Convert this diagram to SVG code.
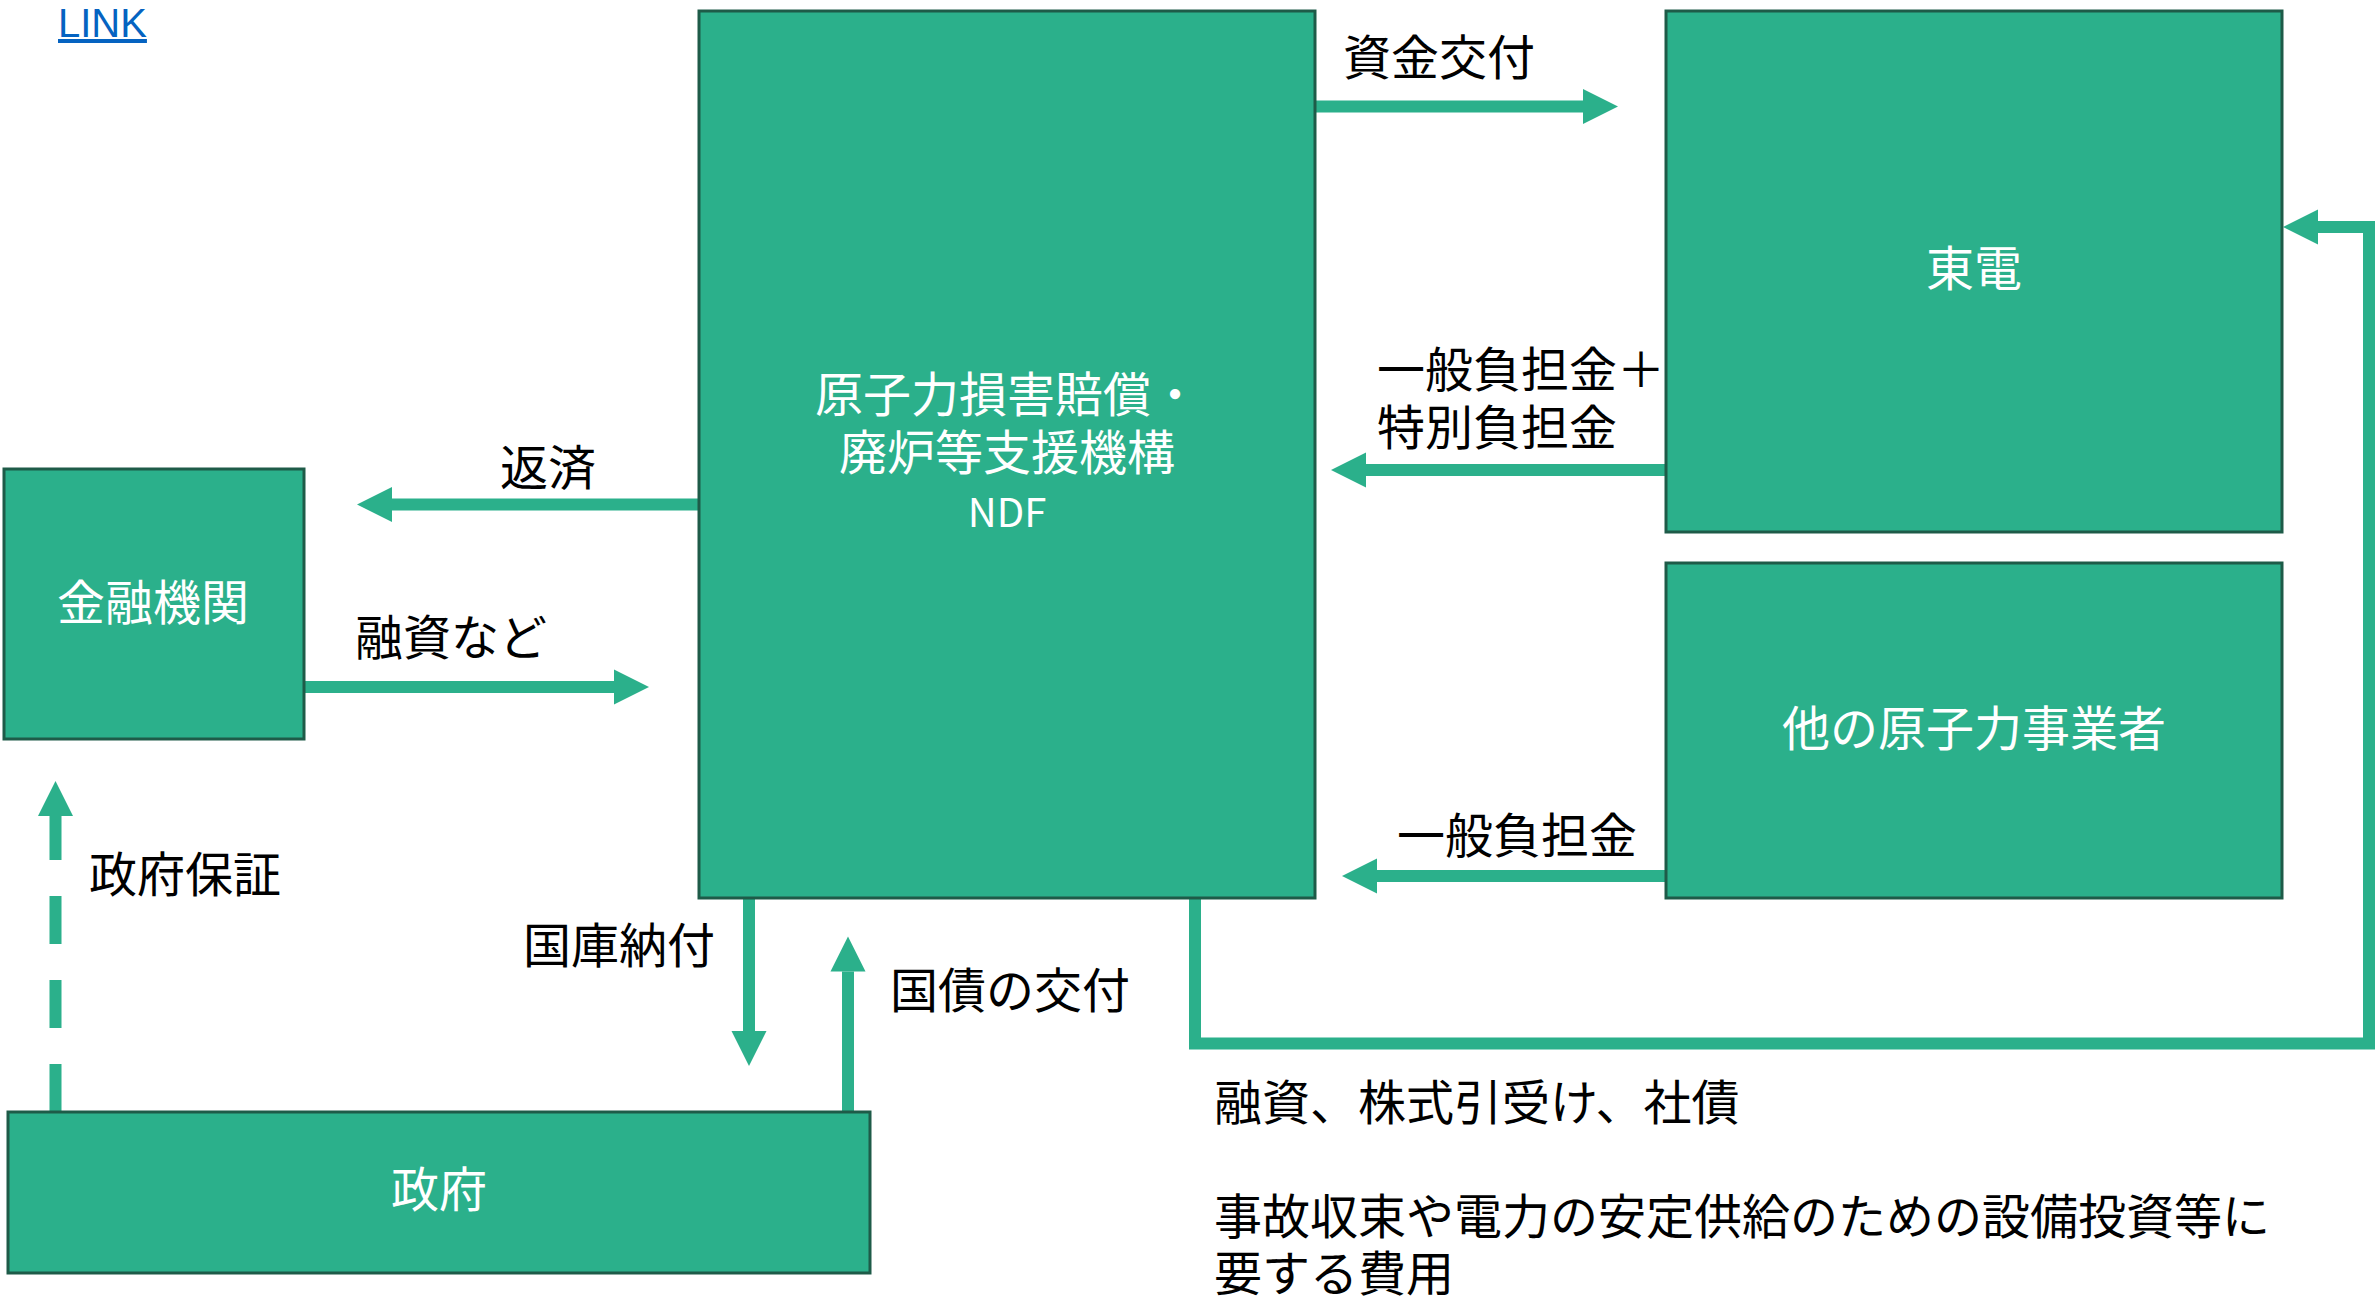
<svg xmlns="http://www.w3.org/2000/svg" width="2377" height="1297" viewBox="0 0 2377 1297">
<style>
.box{fill:#2bb08b;stroke:#1e5b48;stroke-width:3}
.lbl{font-family:"Noto Sans CJK JP","Noto Sans",sans-serif;font-size:48px;fill:#000}
.wl{font-family:"Noto Sans CJK JP","Noto Sans",sans-serif;font-size:48px;fill:#fff;text-anchor:middle}
.con{fill:none;stroke:#2bb08b;stroke-width:12;stroke-linejoin:miter}
.link{font-family:"Liberation Sans","Noto Sans",sans-serif;font-size:40px;fill:#0563c1;text-decoration:underline}
</style>
<defs>
<marker id="ah" markerUnits="userSpaceOnUse" markerWidth="36" markerHeight="36" refX="0" refY="17.5" orient="auto" overflow="visible">
<path d="M0,0 L35,17.5 L0,35 Z" fill="#2bb08b"/>
</marker>
</defs>
<rect width="2377" height="1297" fill="#fff"/>
<text class="link" x="58" y="37">LINK</text>

<g id="connectors">
<line class="con" x1="1315" y1="106.5" x2="1583" y2="106.5" marker-end="url(#ah)"/>
<line class="con" x1="1666" y1="470" x2="1366" y2="470" marker-end="url(#ah)"/>
<line class="con" x1="1666" y1="876" x2="1377" y2="876" marker-end="url(#ah)"/>
<line class="con" x1="699" y1="504.5" x2="392" y2="504.5" marker-end="url(#ah)"/>
<line class="con" x1="304" y1="687" x2="614" y2="687" marker-end="url(#ah)"/>
<line class="con" x1="55.5" y1="1112" x2="55.5" y2="816" stroke-dasharray="48 36" marker-end="url(#ah)"/>
<line class="con" x1="749" y1="898" x2="749" y2="1031" marker-end="url(#ah)"/>
<line class="con" x1="848" y1="1112" x2="848" y2="971.5" marker-end="url(#ah)"/>
<polyline class="con" points="1195,898 1195,1043.5 2369,1043.5 2369,227 2318,227" marker-end="url(#ah)"/>
</g>

<g id="node-ndf">
<rect class="box" x="699" y="11" width="616" height="887"/>
<text class="wl" x="1007" y="412">原子力損害賠償・</text>
<text class="wl" x="1007" y="470">廃炉等支援機構</text>
<text class="wl" x="1007" y="527" style="font-size:40px">NDF</text>
</g>
<g id="node-toden">
<rect class="box" x="1666" y="11" width="616" height="521"/>
<text class="wl" x="1974" y="286">東電</text>
</g>
<g id="node-other">
<rect class="box" x="1666" y="563" width="616" height="335"/>
<text class="wl" x="1974" y="746">他の原子力事業者</text>
</g>
<g id="node-bank">
<rect class="box" x="4" y="469" width="300" height="270"/>
<text class="wl" x="153" y="620">金融機関</text>
</g>
<g id="node-gov">
<rect class="box" x="8" y="1112" width="862" height="161"/>
<text class="wl" x="439" y="1207">政府</text>
</g>

<g id="labels">
<text class="lbl" x="1343" y="75">資金交付</text>
<text class="lbl" x="1377" y="387">一般負担金＋</text>
<text class="lbl" x="1377" y="445">特別負担金</text>
<text class="lbl" x="1397" y="853">一般負担金</text>
<text class="lbl" x="500" y="485">返済</text>
<text class="lbl" x="355" y="655">融資など</text>
<text class="lbl" x="89" y="892">政府保証</text>
<text class="lbl" x="523" y="963">国庫納付</text>
<text class="lbl" x="890" y="1008">国債の交付</text>
<text class="lbl" x="1214" y="1120">融資、株式引受け、社債</text>
<text class="lbl" x="1214" y="1234">事故収束や電力の安定供給のための設備投資等に</text>
<text class="lbl" x="1214" y="1291">要する費用</text>
</g>
</svg>
